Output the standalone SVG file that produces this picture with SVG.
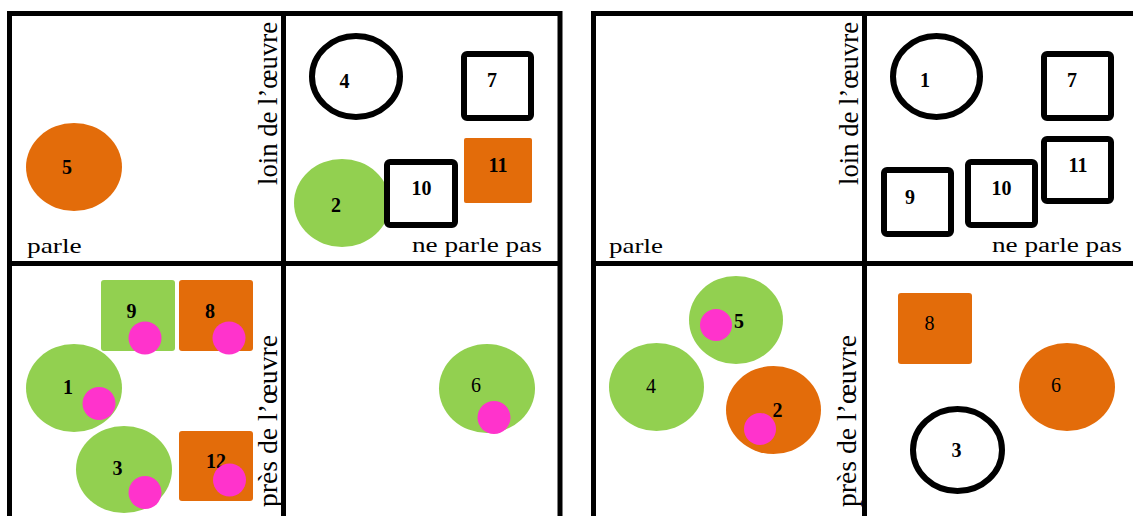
<svg xmlns="http://www.w3.org/2000/svg" width="1133" height="516" viewBox="0 0 1133 516">
<style>
.frame{fill:none;stroke:#000;stroke-width:5}
.div{stroke:#000;stroke-width:5}
.out{fill:#fff;stroke:#000;stroke-width:6}
.gr{fill:#92D050}
.or{fill:#E36C0A}
.pk{fill:#FF33CC}
.lb{font-family:"Liberation Serif","Times New Roman",serif;font-size:20px;font-weight:bold;fill:#000;text-anchor:middle}
.lr{font-weight:normal}
.ax{font-family:"Liberation Serif","Times New Roman",serif;font-size:20px;fill:#000}
.vx{font-family:"Liberation Serif","Times New Roman",serif;font-size:28px;fill:#000}
</style>
<rect width="1133" height="516" fill="#fff"/>
<g id="frames">
<rect class="frame" x="9.5" y="13.5" width="550.5" height="520"/>
<line class="div" x1="283.5" y1="13.5" x2="283.5" y2="530"/>
<line class="div" x1="9.5" y1="263.5" x2="560" y2="263.5"/>
<rect class="frame" x="593.5" y="13.5" width="560" height="520"/>
<line class="div" x1="864.5" y1="13.5" x2="864.5" y2="530"/>
<line class="div" x1="593.5" y1="263.5" x2="1140" y2="263.5"/>
</g>
<g id="axis-labels">
<text class="ax" transform="translate(27,253) scale(1.37,1)">parle</text>
<text class="ax" transform="translate(412,252) scale(1.36,1)">ne parle pas</text>
<text class="vx" transform="translate(277,185) rotate(-90)" textLength="163" lengthAdjust="spacingAndGlyphs">loin de l’œuvre</text>
<text class="vx" transform="translate(277,507) rotate(-90)" textLength="172" lengthAdjust="spacingAndGlyphs">près de l’œuvre</text>
<text class="ax" transform="translate(609,253) scale(1.35,1)">parle</text>
<text class="ax" transform="translate(992,252) scale(1.36,1)">ne parle pas</text>
<text class="vx" transform="translate(858,185) rotate(-90)" textLength="163" lengthAdjust="spacingAndGlyphs">loin de l’œuvre</text>
<text class="vx" transform="translate(856,507) rotate(-90)" textLength="172" lengthAdjust="spacingAndGlyphs">près de l’œuvre</text>
</g>
<g id="left-5"><ellipse class="or" cx="74" cy="167" rx="48" ry="44"/><text class="lb" x="67" y="174">5</text></g>
<g id="left-4"><ellipse class="out" cx="356" cy="76.5" rx="44" ry="40.5"/><text class="lb" x="344.5" y="88">4</text></g>
<g id="left-7"><rect class="out" x="464" y="54" width="67" height="64" rx="3"/><text class="lb" x="492" y="87">7</text></g>
<g id="left-11"><rect class="or" x="464" y="138" width="68" height="65" rx="2"/><text class="lb" x="498" y="172">11</text></g>
<g id="left-2"><ellipse class="gr" cx="342" cy="203" rx="48" ry="44"/><text class="lb" x="336" y="212">2</text></g>
<g id="left-10"><rect class="out" x="387" y="162" width="68" height="63" rx="3"/><text class="lb" x="421.5" y="195">10</text></g>
<g id="left-9"><rect class="gr" x="101" y="280" width="74" height="71" rx="3"/><text class="lb" x="131.5" y="318">9</text><circle class="pk" cx="145" cy="338" r="16.5"/></g>
<g id="left-8"><rect class="or" x="179" y="280" width="74" height="71" rx="3"/><text class="lb" x="210" y="318">8</text><circle class="pk" cx="229" cy="338" r="16.5"/></g>
<g id="left-1"><ellipse class="gr" cx="74" cy="388" rx="48" ry="44"/><text class="lb" x="68" y="394">1</text><circle class="pk" cx="99" cy="403.5" r="16.5"/></g>
<g id="left-3"><ellipse class="gr" cx="124" cy="469.5" rx="48" ry="43.5"/><text class="lb" x="117.5" y="475">3</text><circle class="pk" cx="145" cy="492.5" r="16.5"/></g>
<g id="left-12"><rect class="or" x="179" y="431" width="74" height="70" rx="3"/><text class="lb" x="216" y="468">12</text><circle class="pk" cx="229.5" cy="480" r="16.5"/></g>
<g id="left-6"><ellipse class="gr" cx="487" cy="388.5" rx="48" ry="44.5"/><text class="lb lr" x="476" y="392">6</text><circle class="pk" cx="494" cy="417.5" r="16.5"/></g>
<g id="right-1"><ellipse class="out" cx="936.5" cy="76.5" rx="43.5" ry="40.5"/><text class="lb" x="925" y="87">1</text></g>
<g id="right-7"><rect class="out" x="1044" y="54" width="67" height="64" rx="3"/><text class="lb" x="1072" y="87">7</text></g>
<g id="right-11"><rect class="out" x="1044" y="139" width="67" height="62" rx="3"/><text class="lb" x="1078" y="172">11</text></g>
<g id="right-10"><rect class="out" x="968" y="162" width="67" height="63" rx="3"/><text class="lb" x="1001.5" y="195">10</text></g>
<g id="right-9"><rect class="out" x="884" y="170" width="67" height="64" rx="3"/><text class="lb" x="910" y="204">9</text></g>
<g id="right-5"><ellipse class="gr" cx="736" cy="320" rx="47" ry="44"/><circle class="pk" cx="716" cy="325" r="16"/><text class="lb" x="739" y="328">5</text></g>
<g id="right-4"><ellipse class="gr" cx="656.5" cy="387" rx="47.5" ry="44"/><text class="lb lr" x="651" y="393">4</text></g>
<g id="right-2"><ellipse class="or" cx="773.5" cy="410" rx="47.5" ry="44"/><circle class="pk" cx="760" cy="429" r="16"/><text class="lb" x="777.5" y="417">2</text></g>
<g id="right-8"><rect class="or" x="898" y="293" width="74" height="71" rx="3"/><text class="lb lr" x="929.5" y="330">8</text></g>
<g id="right-6"><ellipse class="or" cx="1067" cy="387" rx="48" ry="44"/><text class="lb lr" x="1056" y="392">6</text></g>
<g id="right-3"><ellipse class="out" cx="957.5" cy="450" rx="44.5" ry="41"/><text class="lb" x="956.5" y="457">3</text></g>
<g id="connectors"></g>
</svg>
